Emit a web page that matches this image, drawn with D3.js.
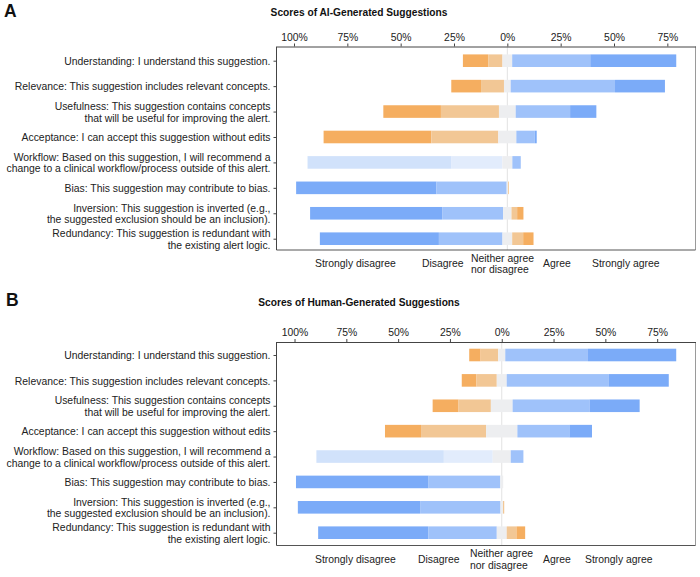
<!DOCTYPE html>
<html>
<head>
<meta charset="utf-8">
<script src="https://cdn.jsdelivr.net/npm/d3@7"></script>
<style>
  body { margin: 0; background: #fff; }
  svg { display: block; font-family: "Liberation Sans", Arial, Helvetica, sans-serif; }
</style>
</head>
<body>
<svg id="chart" width="700" height="577"></svg>
<script>
// ---------------- DATA ----------------
const categories = [
  ["Understanding: I understand this suggestion."],
  ["Relevance: This suggestion includes relevant concepts."],
  ["Usefulness: This suggestion contains concepts", "that will be useful for improving the alert."],
  ["Acceptance: I can accept this suggestion without edits"],
  ["Workflow: Based on this suggestion, I will recommend a", "change to a clinical workflow/process outside of this alert."],
  ["Bias: This suggestion may contribute to bias."],
  ["Inversion: This suggestion is inverted (e.g.,", "the suggested exclusion should be an inclusion)."],
  ["Redundancy: This suggestion is redundant with", "the existing alert logic."]
];
const responseLevels = ["Strongly disagree", "Disagree", "Neither agree\nnor disagree", "Agree", "Strongly agree"];
const tickValues = [-100, -75, -50, -25, 0, 25, 50, 75];

// Panel A: AI-generated suggestions (% of ratings)
const aiStronglyDisagree = [11.85, 13.95, 27.0, 50.5, 67.5, 65.8, 61.9, 55.8];
const aiDisagree         = [6.7, 10.75, 27.2, 31.4, 23.8, 32.9, 28.6, 29.8];
const aiNeutral          = [4.55, 3.15, 7.85, 8.45, 4.7, 0.6, 3.9, 4.55];
const aiAgree            = [36.6, 48.9, 25.5, 8.6, 3.95, 0.4, 2.65, 5.15];
const aiStronglyAgree    = [40.3, 23.4, 12.3, 0.95, 0, 0, 2.95, 4.85];

// Panel B: human-generated suggestions (% of ratings)
const huStronglyDisagree = [5.5, 7.1, 12.5, 17.4, 61.5, 64.0, 59.0, 53.1];
const huDisagree         = [8.5, 9.8, 15.6, 31.4, 23.6, 34.6, 38.8, 33.1];
const huNeutral          = [3.4, 4.8, 10.5, 15.1, 8.7, 1.4, 1.2, 4.8];
const huAgree            = [39.9, 49.1, 37.1, 25.1, 6.1, 0, 0.6, 4.7];
const huStronglyAgree    = [42.6, 29.1, 24.2, 10.9, 0, 0, 0, 4.2];

// colour scheme per question (positive wording, workflow, negative wording)
const rowScheme = ["pos", "pos", "pos", "pos", "wf", "neg", "neg", "neg"];

// ---------------- STYLE ----------------
const C = {
  darkOrange: "#F5AE60", lightOrange: "#F2C795", gray: "#EDEEF0",
  lightBlue: "#9FC2FA", darkBlue: "#7BABF8",
  palest: "#D1E2FB", paler: "#E2ECFC"
};
const schemes = {
  pos: [C.darkOrange, C.lightOrange, C.gray, C.lightBlue, C.darkBlue],
  wf:  [C.palest, C.paler, C.gray, C.lightBlue, C.darkBlue],
  neg: [C.darkBlue, C.lightBlue, C.gray, C.lightOrange, C.darkOrange]
};

const svg = d3.select("#chart");
const FS = 10.4;

const panels = [
  { letter: "A", title: "Scores of AI-Generated Suggestions",
    series: [aiStronglyDisagree, aiDisagree, aiNeutral, aiAgree, aiStronglyAgree],
    letterX: 4, letterY: 17, titleY: 16,
    top: 46.5, bottom: 250, rowTop: 60.7, rowBottom: 238.7,
    domain: [-108.2, 88.2],
    legendX: [315, 422, 471, 543, 592] },
  { letter: "B", title: "Scores of Human-Generated Suggestions",
    series: [huStronglyDisagree, huDisagree, huNeutral, huAgree, huStronglyAgree],
    letterX: 6, letterY: 306, titleY: 306,
    top: 342, bottom: 545.5, rowTop: 355, rowBottom: 532.7,
    domain: [-108.7, 93.5],
    legendX: [315, 418, 470, 543, 585] }
];

const left = 276.5, right = 695.5;
const catKeys = categories.map(c => c.join(" "));

panels.forEach(p => {
  const g = svg.append("g");
  const x = d3.scaleLinear().domain(p.domain).range([left, right]);
  const y = d3.scalePoint().domain(catKeys).range([p.rowTop, p.rowBottom]);
  const barH = 12.6;

  // letter and title
  g.append("text").attr("x", p.letterX).attr("y", p.letterY)
    .attr("font-size", 17.5).attr("font-weight", "bold").attr("fill", "#111").text(p.letter);
  g.append("text").attr("x", 359).attr("y", p.titleY).attr("text-anchor", "middle")
    .attr("font-size", 10.2).attr("font-weight", "bold").attr("fill", "#111").text(p.title);

  // zero line
  g.append("line").attr("x1", x(0)).attr("x2", x(0))
    .attr("y1", p.top).attr("y2", p.bottom)
    .attr("stroke", "#e2e2e2").attr("stroke-width", 1);

  // stacked diverging bars
  catKeys.forEach((key, i) => {
    const vals = p.series.map(s => s[i]);
    let start = -(vals[0] + vals[1] + vals[2] / 2);
    const cols = schemes[rowScheme[i]];
    vals.forEach((v, k) => {
      if (v > 0) {
        g.append("rect")
          .attr("x", x(start)).attr("width", x(start + v) - x(start))
          .attr("y", y(key) - barH / 2).attr("height", barH)
          .attr("fill", cols[k]);
      }
      start += v;
    });
  });

  // frame
  g.append("line").attr("x1", right).attr("x2", right).attr("y1", p.top).attr("y2", p.bottom)
    .attr("stroke", "#9a9a9a").attr("stroke-width", 1);
  g.append("line").attr("x1", left).attr("x2", right).attr("y1", p.bottom).attr("y2", p.bottom)
    .attr("stroke", "#555").attr("stroke-width", 1);

  // x axis on top
  const xAxis = d3.axisTop(x).tickValues(tickValues).tickSize(3).tickSizeOuter(0).tickPadding(3)
    .tickFormat(d => Math.abs(d) + "%");
  const gx = g.append("g").attr("transform", `translate(0,${p.top})`).call(xAxis);
  gx.select(".domain").attr("stroke", "#444");
  gx.selectAll(".tick line").attr("stroke", "#444");
  gx.selectAll(".tick text").attr("font-size", FS).attr("fill", "#222")
    .attr("font-family", "Liberation Sans, Arial, sans-serif");

  // y axis
  const yAxis = d3.axisLeft(y).tickSize(3).tickSizeOuter(0).tickFormat("");
  const gy = g.append("g").attr("transform", `translate(${left},0)`).call(yAxis);
  gy.select(".domain").attr("stroke", "#444")
    .attr("d", `M0,${p.top}V${p.bottom}`);
  gy.selectAll(".tick line").attr("stroke", "#444");
  gy.selectAll(".tick").each(function(d, i) {
    const lines = categories[i];
    const t = d3.select(this).append("text")
      .attr("x", -6).attr("text-anchor", "end")
      .attr("font-size", FS).attr("fill", "#222")
      .attr("font-family", "Liberation Sans, Arial, sans-serif");
    const lh = 11.7;
    lines.forEach((ln, j) => {
      t.append("tspan").attr("x", -6)
        .attr("y", (j - (lines.length - 1) / 2) * lh)
        .attr("dy", "0.35em").text(ln);
    });
  });

  // legend (text only)
  responseLevels.forEach((lab, k) => {
    const parts = lab.split("\n");
    const t = g.append("text").attr("font-size", FS).attr("fill", "#222");
    parts.forEach((pt, j) => {
      const yy = parts.length === 1 ? p.bottom + 17 : p.bottom + 11.5 + j * 11.5;
      t.append("tspan").attr("x", p.legendX[k]).attr("y", yy).text(pt);
    });
  });
});
</script>
</body>
</html>
